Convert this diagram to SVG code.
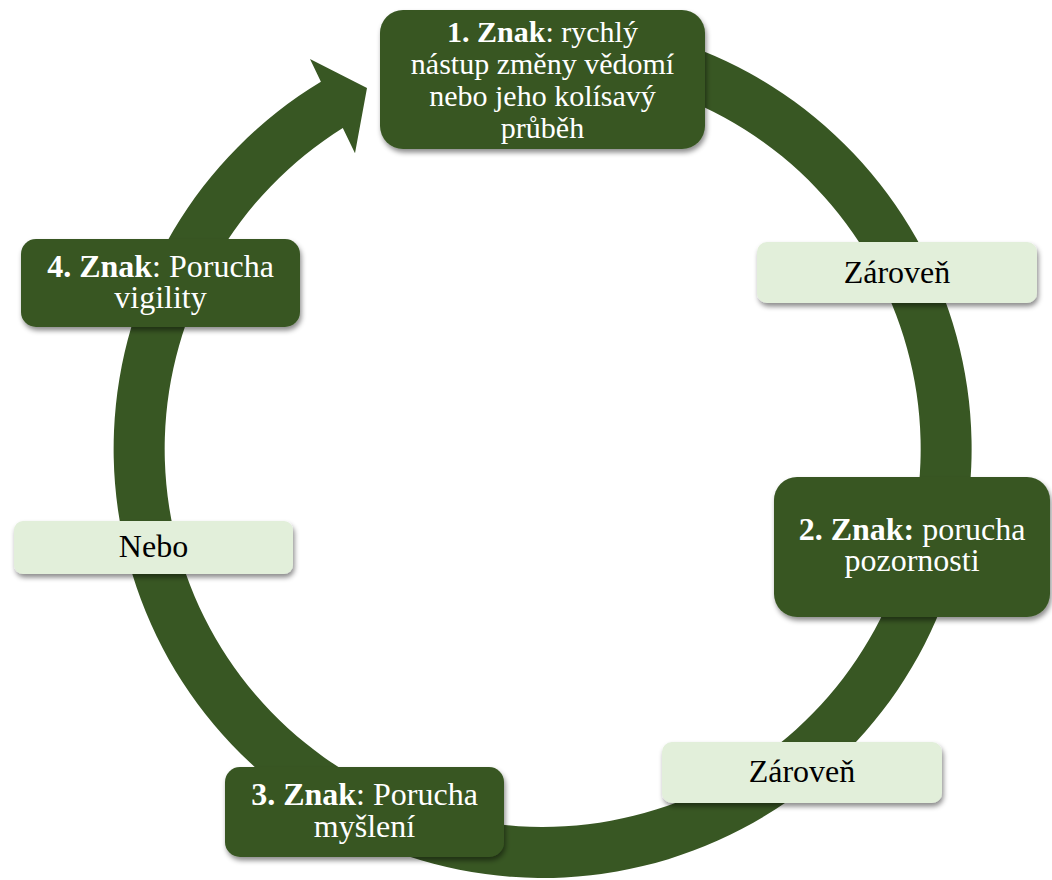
<svg xmlns="http://www.w3.org/2000/svg" width="1052" height="880" viewBox="0 0 1052 880">
  <defs>
    <filter id="sh" x="-10%" y="-20%" width="125%" height="150%">
      <feDropShadow dx="1.5" dy="3.5" stdDeviation="2.5" flood-color="#000" flood-opacity="0.45"/>
    </filter>
  </defs>
  <style>
    .dark { fill: #385723; }
    .light { fill: #E2EFDA; }
    .tw { font-family: "Liberation Serif", "Times New Roman", serif; font-size: 32px; fill: #FFFFFF; text-anchor: middle; }
    .tb { font-family: "Liberation Serif", "Times New Roman", serif; font-size: 32px; fill: #000000; text-anchor: middle; }
    .t1 { font-size: 30px; }
    .b { font-weight: bold; }
  </style>
  <rect width="1052" height="880" fill="#FFFFFF"/>
  <g id="connectors">
    <path class="dark" d="M 468.0 26.5 A 429 429 0 1 1 320.9 81.7 L 310 59 L 367 88 L 355 153.3 L 342.8 128.1 A 378 378 0 1 0 476.9 76.7 Z"/>
  </g>
  <g id="node1">
    <rect class="dark" x="380" y="10" width="325" height="139" rx="23" filter="url(#sh)"/>
    <text class="tw t1" x="542.5" y="42"><tspan class="b">1. Znak</tspan>: rychlý</text>
    <text class="tw t1" x="542.5" y="74">nástup změny vědomí</text>
    <text class="tw t1" x="542.5" y="106">nebo jeho kolísavý</text>
    <text class="tw t1" x="542.5" y="138">průběh</text>
  </g>
  <g id="label-top">
    <rect class="light" x="757" y="242" width="280" height="61" rx="10" filter="url(#sh)"/>
    <text class="tb" x="897" y="283">Zároveň</text>
  </g>
  <g id="node2">
    <rect class="dark" x="774" y="477" width="276" height="140" rx="23" filter="url(#sh)"/>
    <text class="tw" x="912" y="540"><tspan class="b">2. Znak:</tspan> porucha</text>
    <text class="tw" x="912" y="571">pozornosti</text>
  </g>
  <g id="label-bottom">
    <rect class="light" x="662" y="742" width="280" height="61" rx="10" filter="url(#sh)"/>
    <text class="tb" x="802" y="782">Zároveň</text>
  </g>
  <g id="node3">
    <rect class="dark" x="225" y="767" width="279" height="90" rx="15" filter="url(#sh)"/>
    <text class="tw" x="364.5" y="805"><tspan class="b">3. Znak</tspan>: Porucha</text>
    <text class="tw" x="364.5" y="837">myšlení</text>
  </g>
  <g id="label-left">
    <rect class="light" x="14" y="521" width="279" height="53" rx="9" filter="url(#sh)"/>
    <text class="tb" x="153.5" y="557">Nebo</text>
  </g>
  <g id="node4">
    <rect class="dark" x="21" y="239" width="279" height="88" rx="15" filter="url(#sh)"/>
    <text class="tw" x="160.5" y="277"><tspan class="b">4. Znak</tspan>: Porucha</text>
    <text class="tw" x="160.5" y="308">vigility</text>
  </g>
</svg>
